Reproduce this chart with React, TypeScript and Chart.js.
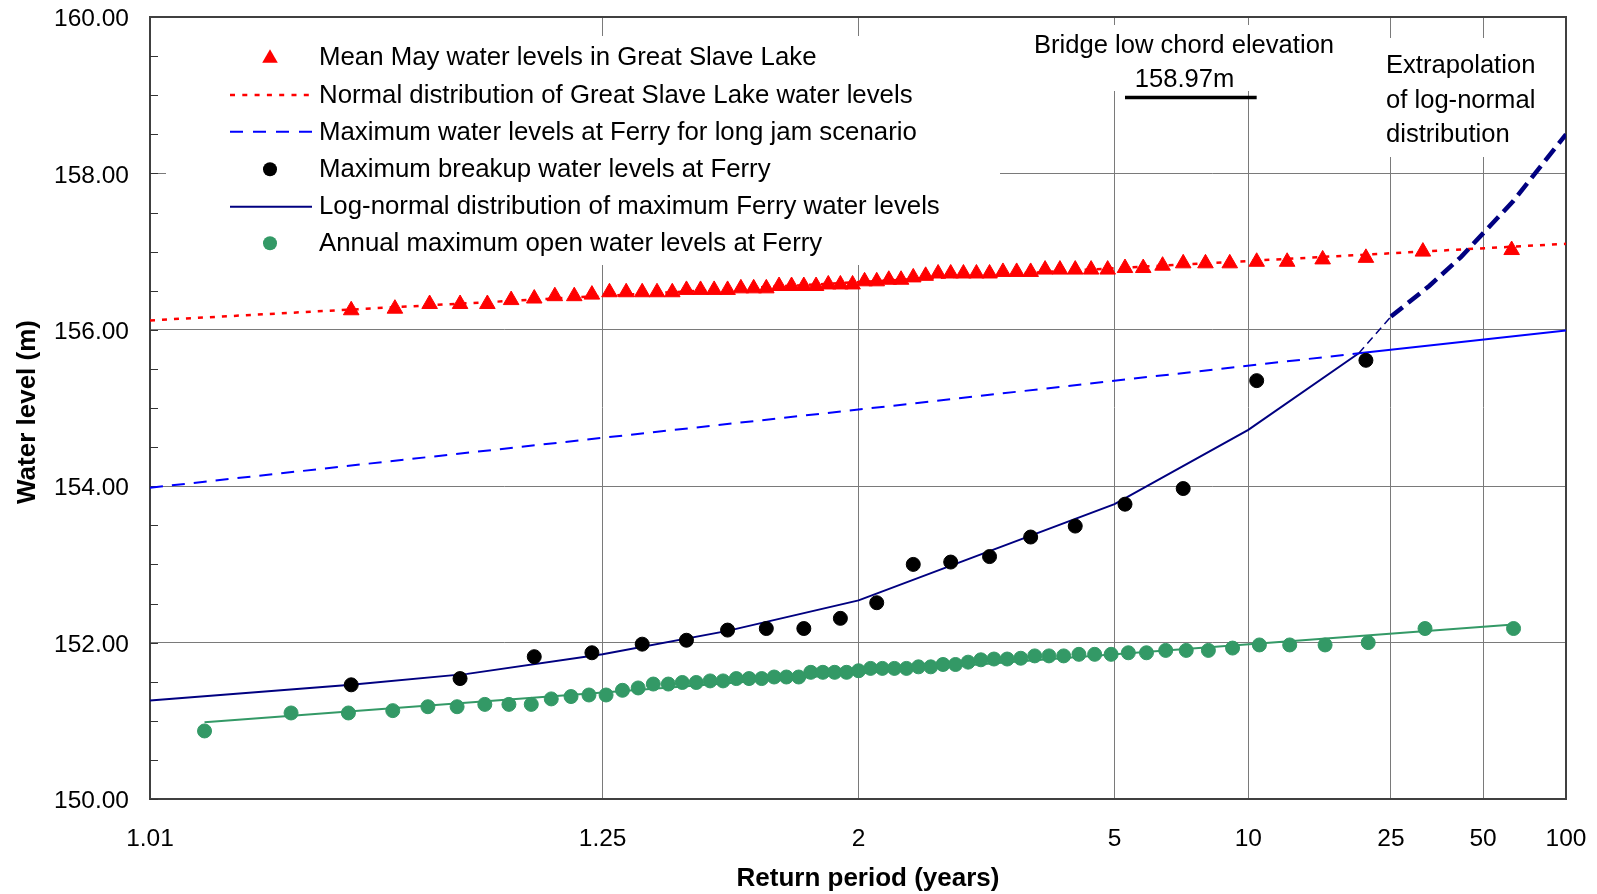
import React, { useEffect, useRef } from 'react';
import { Chart, registerables } from 'chart.js';

Chart.register(...registerables);

// ---------- axis definitions ----------
const X_TICK_PERIODS = [1.01, 1.25, 2, 5, 10, 25, 50, 100];
const X_TICK_LABELS = ['1.01', '1.25', '2', '5', '10', '25', '50', '100'];
const Y_TICKS = [150, 152, 154, 156, 158, 160];
const Y_MIN = 150;
const Y_MAX = 160;

// ---------- data (return period in years, water level in m) ----------
const lakeReturnPeriods = [
  1.05, 1.068, 1.086, 1.105, 1.125, 1.145, 1.167, 1.189, 1.212, 1.235, 1.26, 1.286, 1.313, 1.34, 1.37,
  1.4, 1.432, 1.465, 1.5, 1.537, 1.575, 1.615, 1.658, 1.703, 1.75, 1.8, 1.853, 1.909, 1.969, 2.032,
  2.1, 2.172, 2.25, 2.333, 2.423, 2.52, 2.625, 2.739, 2.864, 3, 3.15, 3.316, 3.5, 3.706, 3.938,
  4.2, 4.5, 4.846, 5.25, 5.727, 6.3, 7, 7.875, 9, 10.5, 12.6, 15.75, 21, 31.5, 63,
];
const lakeLevels = [
  156.25, 156.27, 156.33, 156.33, 156.33, 156.38, 156.4, 156.43, 156.43, 156.45, 156.48, 156.48, 156.48, 156.48, 156.48,
  156.51, 156.51, 156.51, 156.51, 156.53, 156.53, 156.53, 156.56, 156.56, 156.56, 156.56, 156.58, 156.58, 156.58, 156.62,
  156.62, 156.64, 156.64, 156.67, 156.69, 156.72, 156.72, 156.72, 156.72, 156.72, 156.74, 156.74, 156.74, 156.77, 156.77,
  156.77, 156.77, 156.77, 156.79, 156.79, 156.82, 156.85, 156.85, 156.85, 156.87, 156.87, 156.9, 156.92, 157.0, 157.02,
];

const lakeFitReturnPeriods = [1.01, 2, 100];
const lakeFitLevels = [156.12, 156.61, 157.1];

const jamReturnPeriods = [1.01, 2, 20];
const jamLevels = [153.98, 154.98, 155.7];
const jamUpperReturnPeriods = [20, 100];
const jamUpperLevels = [155.7, 155.99];

const breakupReturnPeriods = [
  1.05, 1.105, 1.167, 1.235, 1.313, 1.4, 1.5, 1.615, 1.75, 1.909,
  2.1, 2.333, 2.625, 3, 3.5, 4.2, 5.25, 7, 10.5, 21,
];
const breakupLevels = [
  151.46, 151.54, 151.82, 151.87, 151.98, 152.03, 152.16, 152.18, 152.18, 152.31,
  152.51, 153.0, 153.03, 153.1, 153.35, 153.49, 153.77, 153.97, 155.35, 155.61,
];

const lognormReturnPeriods = [1.01, 1.05, 1.11, 1.25, 1.5, 2, 5, 10, 20];
const lognormLevels = [151.26, 151.46, 151.6, 151.85, 152.15, 152.54, 153.77, 154.72, 155.7];

const extrapStartReturnPeriods = [20, 25];
const extrapStartLevels = [155.7, 156.17];
const extrapReturnPeriods = [25, 33, 42, 64, 100];
const extrapLevels = [156.17, 156.56, 156.93, 157.65, 158.5];

const openWaterReturnPeriods = [
  1.016, 1.032, 1.049, 1.067, 1.085, 1.103, 1.123, 1.143, 1.164, 1.185, 1.208, 1.231, 1.255, 1.28, 1.306,
  1.333, 1.362, 1.391, 1.422, 1.455, 1.488, 1.524, 1.561, 1.6, 1.641, 1.684, 1.73, 1.778, 1.829, 1.882,
  1.939, 2, 2.065, 2.133, 2.207, 2.286, 2.37, 2.462, 2.56, 2.667, 2.783, 2.909, 3.048, 3.2, 3.368,
  3.556, 3.765, 4, 4.267, 4.571, 4.923, 5.333, 5.818, 6.4, 7.111, 8, 9.143, 10.667, 12.8, 16,
  21.333, 32, 64,
];
const openWaterLevels = [
  150.87, 151.1, 151.1, 151.13, 151.18, 151.18, 151.21, 151.21, 151.21, 151.28, 151.31, 151.33, 151.33, 151.39, 151.42,
  151.47, 151.47, 151.49, 151.49, 151.51, 151.51, 151.54, 151.54, 151.54, 151.56, 151.56, 151.56, 151.62, 151.62, 151.62,
  151.62, 151.64, 151.67, 151.67, 151.67, 151.67, 151.69, 151.69, 151.72, 151.72, 151.75, 151.78, 151.79, 151.79, 151.8,
  151.83, 151.83, 151.83, 151.85, 151.85, 151.85, 151.87, 151.87, 151.9, 151.9, 151.9, 151.93, 151.97, 151.97, 151.97,
  152.0, 152.18, 152.18,
];
const openFitReturnPeriods = [1.016, 64];
const openFitLevels = [150.98, 152.23];

const bridgeReturnPeriods = [5.25, 10.5];
const bridgeLevels = [158.97, 158.97];

const LEGEND_LABELS = [
  'Mean May water levels in Great Slave Lake',
  'Normal distribution of Great Slave Lake water levels',
  'Maximum water levels at Ferry for long jam scenario',
  'Maximum breakup water levels at Ferry',
  'Log-normal distribution of maximum Ferry water levels',
  'Annual maximum open water levels at Ferry',
];
const BRIDGE_TEXT = ['Bridge low chord elevation', '158.97m'];
const EXTRAP_TEXT = ['Extrapolation', 'of log-normal', 'distribution'];
const X_TITLE = 'Return period (years)';
const Y_TITLE = 'Water level (m)';

// ---------- colours ----------
const RED = '#FF0000';
const BLUE = '#0000FF';
const NAVY = '#000080';
const GREEN = '#339966';
const FONT = "'Liberation Sans', Arial, sans-serif";

// inverse standard normal CDF (Acklam) – used for the normal-probability x axis
function probit(p: number): number {
  const a = [-3.969683028665376e1, 2.209460984245205e2, -2.759285104469687e2, 1.38357751867269e2, -3.066479806614716e1, 2.506628277459239];
  const b = [-5.447609879822406e1, 1.615858368580409e2, -1.556989798598866e2, 6.680131188771972e1, -1.328068155288572e1];
  const c = [-7.784894002430293e-3, -3.223964580411365e-1, -2.400758277161838, -2.549671348283685, 4.374664141464968, 2.938163982699783];
  const d = [7.784695709041462e-3, 3.224671290700398e-1, 2.445134137142996, 3.754408661907416];
  const plow = 0.02425;
  if (p < plow) {
    const q = Math.sqrt(-2 * Math.log(p));
    return (((((c[0] * q + c[1]) * q + c[2]) * q + c[3]) * q + c[4]) * q + c[5]) / ((((d[0] * q + d[1]) * q + d[2]) * q + d[3]) * q + 1);
  }
  if (p <= 1 - plow) {
    const q = p - 0.5;
    const r = q * q;
    return ((((((a[0] * r + a[1]) * r + a[2]) * r + a[3]) * r + a[4]) * r + a[5]) * q) / (((((b[0] * r + b[1]) * r + b[2]) * r + b[3]) * r + b[4]) * r + 1);
  }
  const q = Math.sqrt(-2 * Math.log(1 - p));
  return -(((((c[0] * q + c[1]) * q + c[2]) * q + c[3]) * q + c[4]) * q + c[5]) / ((((d[0] * q + d[1]) * q + d[2]) * q + d[3]) * q + 1);
}
const toX = (T: number) => probit(1 - 1 / T);
const pts = (ts: number[], vs: number[]) => ts.map((t, i) => ({ x: toX(t), y: vs[i] }));

const decorPlugin = {
  id: 'decor',
  beforeDatasetsDraw(chart: any) {
    const ctx = chart.ctx as CanvasRenderingContext2D;
    const { left, top, right, bottom } = chart.chartArea;
    const ys = chart.scales.y;
    ctx.save();
    // white backgrounds behind legend and annotations
    ctx.fillStyle = '#ffffff';
    ctx.fillRect(166, 36, 834, 229);
    ctx.fillRect(1028, 25, 312, 66);
    ctx.fillRect(1378, 38, 167, 119);

    // minor ticks on y axis
    ctx.strokeStyle = '#333333';
    ctx.lineWidth = 1;
    for (let v = Y_MIN; v <= Y_MAX + 1e-9; v += 0.5) {
      const py = Math.round(ys.getPixelForValue(v)) + 0.5;
      ctx.beginPath();
      ctx.moveTo(left, py);
      ctx.lineTo(left + 8, py);
      ctx.stroke();
    }
    // top and right frame
    ctx.strokeStyle = '#404040';
    ctx.lineWidth = 2;
    ctx.beginPath();
    ctx.moveTo(left, top);
    ctx.lineTo(right, top);
    ctx.lineTo(right, bottom);
    ctx.stroke();

    // legend
    const rowBase = [65.3, 102.6, 139.5, 176.7, 214.0, 250.9];
    const mx = 270;
    ctx.font = `25.8px ${FONT}`;
    ctx.fillStyle = '#000';
    ctx.textAlign = 'left';
    ctx.textBaseline = 'alphabetic';
    LEGEND_LABELS.forEach((lab, i) => ctx.fillText(lab, 319, rowBase[i]));
    {
      const cy = 58.3, r = 9;
      ctx.fillStyle = RED;
      ctx.beginPath();
      ctx.moveTo(mx, cy - r);
      ctx.lineTo(mx + r * Math.sin((2 * Math.PI) / 3), cy + r / 2);
      ctx.lineTo(mx - r * Math.sin((2 * Math.PI) / 3), cy + r / 2);
      ctx.closePath();
      ctx.fill();
    }
    const seg = (y: number, color: string, w: number, dash: number[]) => {
      ctx.strokeStyle = color;
      ctx.lineWidth = w;
      ctx.setLineDash(dash);
      ctx.beginPath();
      ctx.moveTo(230, y);
      ctx.lineTo(312, y);
      ctx.stroke();
      ctx.setLineDash([]);
    };
    seg(95, RED, 2.5, [5, 7.3]);
    seg(131.7, BLUE, 2, [13, 10]);
    seg(206.7, NAVY, 2, []);
    const dot = (y: number, color: string) => {
      ctx.fillStyle = color;
      ctx.beginPath();
      ctx.arc(mx, y, 7, 0, Math.PI * 2);
      ctx.fill();
    };
    dot(169.3, '#000');
    dot(243.3, GREEN);

    // annotations
    ctx.font = `25.6px ${FONT}`;
    ctx.fillStyle = '#000';
    ctx.textAlign = 'center';
    ctx.fillText(BRIDGE_TEXT[0], 1184, 53.3);
    ctx.fillText(BRIDGE_TEXT[1], 1184.5, 86.7);
    ctx.textAlign = 'left';
    ctx.fillText(EXTRAP_TEXT[0], 1386, 73.3);
    ctx.fillText(EXTRAP_TEXT[1], 1386, 107.5);
    ctx.fillText(EXTRAP_TEXT[2], 1386, 141.7);

    // axis titles
    ctx.font = `bold 26px ${FONT}`;
    ctx.textAlign = 'center';
    ctx.fillText(X_TITLE, 868, 886);
    ctx.save();
    ctx.translate(35, 412);
    ctx.rotate(-Math.PI / 2);
    ctx.fillText(Y_TITLE, 0, 0);
    ctx.restore();
    ctx.restore();
  },
};

export default function App() {
  const ref = useRef<HTMLCanvasElement | null>(null);
  useEffect(() => {
    if (!ref.current) return;
    Chart.defaults.font.family = FONT;
    const chart = new Chart(ref.current, {
      type: 'line',
      data: {
        datasets: [
          {
            label: 'bridge',
            data: pts(bridgeReturnPeriods, bridgeLevels),
            borderColor: '#000',
            borderWidth: 3.5,
            pointRadius: 0,
            order: 3,
          },
          {
            label: LEGEND_LABELS[1],
            data: pts(lakeFitReturnPeriods, lakeFitLevels),
            borderColor: RED,
            borderWidth: 2.5,
            borderDash: [5, 7],
            pointRadius: 0,
            order: 3,
          },
          {
            label: LEGEND_LABELS[2],
            data: pts(jamReturnPeriods, jamLevels),
            borderColor: BLUE,
            borderWidth: 2,
            borderDash: [13, 9],
            pointRadius: 0,
            order: 3,
          },
          {
            label: 'jam upper',
            data: pts(jamUpperReturnPeriods, jamUpperLevels),
            borderColor: BLUE,
            borderWidth: 2,
            pointRadius: 0,
            order: 3,
          },
          {
            label: LEGEND_LABELS[4],
            data: pts(lognormReturnPeriods, lognormLevels),
            borderColor: NAVY,
            borderWidth: 2,
            pointRadius: 0,
            order: 3,
          },
          {
            label: 'extrap start',
            data: pts(extrapStartReturnPeriods, extrapStartLevels),
            borderColor: NAVY,
            borderWidth: 1.5,
            borderDash: [8, 5],
            pointRadius: 0,
            order: 2,
          },
          {
            label: 'extrap',
            data: pts(extrapReturnPeriods, extrapLevels),
            borderColor: NAVY,
            borderWidth: 4.5,
            borderDash: [15, 7],
            pointRadius: 0,
            order: 1,
          },
          {
            label: 'open fit',
            data: pts(openFitReturnPeriods, openFitLevels),
            borderColor: GREEN,
            borderWidth: 2,
            pointRadius: 0,
            order: 3,
          },
          {
            label: LEGEND_LABELS[0],
            data: pts(lakeReturnPeriods, lakeLevels),
            showLine: false,
            pointStyle: 'triangle',
            pointRadius: 9,
            backgroundColor: RED,
            borderColor: RED,
            borderWidth: 1,
            order: 2,
          },
          {
            label: LEGEND_LABELS[3],
            data: pts(breakupReturnPeriods, breakupLevels),
            showLine: false,
            pointStyle: 'circle',
            pointRadius: 7,
            backgroundColor: '#000',
            borderColor: '#000',
            borderWidth: 1,
            order: 2,
          },
          {
            label: LEGEND_LABELS[5],
            data: pts(openWaterReturnPeriods, openWaterLevels),
            showLine: false,
            pointStyle: 'circle',
            pointRadius: 7,
            backgroundColor: GREEN,
            borderColor: GREEN,
            borderWidth: 1,
            order: 2,
          },
        ],
      },
      options: {
        responsive: false,
        animation: false,
        events: [],
        layout: { padding: { top: 17, right: 31, left: 0, bottom: 0 } },
        plugins: { legend: { display: false }, tooltip: { enabled: false } },
        scales: {
          x: {
            type: 'linear',
            min: toX(X_TICK_PERIODS[0]),
            max: toX(X_TICK_PERIODS[X_TICK_PERIODS.length - 1]),
            afterBuildTicks: (s: any) => {
              s.ticks = X_TICK_PERIODS.map((t) => ({ value: toX(t) }));
            },
            afterFit: (s: any) => {
              s.height = 95;
              s.paddingLeft = 0;
              s.paddingRight = 0;
              s.paddingTop = 0;
              s.paddingBottom = 0;
            },
            ticks: {
              autoSkip: false,
              maxRotation: 0,
              minRotation: 0,
              padding: 26,
              color: '#000',
              font: { size: 24.5, family: FONT },
              callback: (_v: any, i: number) => X_TICK_LABELS[i],
            },
            grid: { color: '#7a7a7a', lineWidth: 1, drawTicks: false },
            border: { display: true, color: '#404040', width: 2 },
          },
          y: {
            type: 'linear',
            min: Y_MIN,
            max: Y_MAX,
            afterBuildTicks: (s: any) => {
              s.ticks = Y_TICKS.map((v) => ({ value: v }));
            },
            afterFit: (s: any) => {
              s.width = 150;
              s.paddingLeft = 0;
              s.paddingRight = 0;
              s.paddingTop = 0;
              s.paddingBottom = 0;
            },
            ticks: {
              padding: 21,
              labelOffset: 2.5,
              color: '#000',
              font: { size: 24.5, family: FONT },
              callback: (v: any) => Number(v).toFixed(2),
            },
            grid: { color: '#7a7a7a', lineWidth: 1, drawTicks: false },
            border: { display: true, color: '#404040', width: 2 },
          },
        },
      },
      plugins: [decorPlugin],
    } as any);
    return () => chart.destroy();
  }, []);
  return (
    <div style={{ position: 'absolute', left: 0, top: 0, width: 1597, height: 894, background: '#fff' }}>
      <canvas ref={ref} width={1597} height={894} style={{ display: 'block' }} />
    </div>
  );
}
